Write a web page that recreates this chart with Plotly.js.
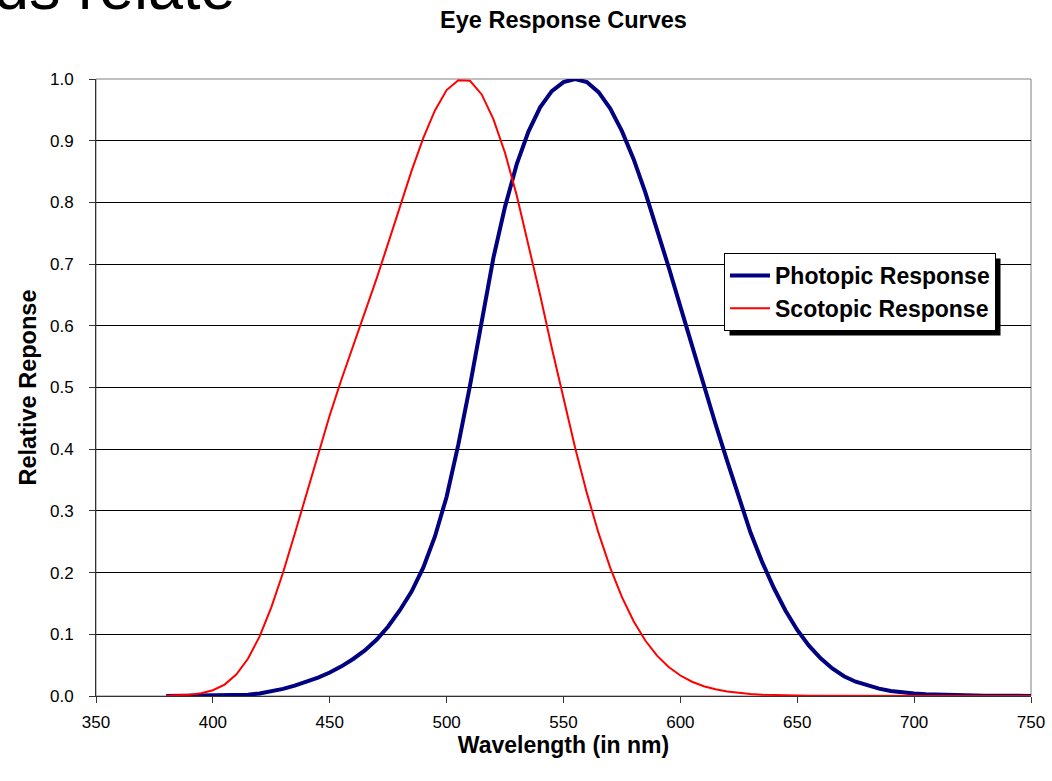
<!DOCTYPE html>
<html>
<head>
<meta charset="utf-8">
<script src="https://cdn.plot.ly/plotly-3.0.1.min.js"></script>
<style>
  html, body { margin: 0; padding: 0; background: #ffffff; }
  #chart { width: 1052px; height: 781px; }
</style>
</head>
<body>
<div id="chart"></div>
<script>
// Wavelength samples (nm)
const wavelengths = [
  380, 385, 390, 395, 400, 405, 410, 415, 420, 425, 430, 435, 440, 445, 450, 455,
  460, 465, 470, 475, 480, 485, 490, 495, 500, 505, 510, 515, 520, 525, 530, 535,
  540, 545, 550, 555, 560, 565, 570, 575, 580, 585, 590, 595, 600, 605, 610, 615,
  620, 625, 630, 635, 640, 645, 650, 655, 660, 665, 670, 675, 680, 685, 690, 695,
  700, 705, 710, 715, 720, 725, 730, 735, 740, 745, 750
];

// Photopic response (relative)
const photopic = [
  0.0000, 0.0001, 0.0001, 0.0002, 0.0004, 0.0006, 0.0012, 0.0022, 0.0040, 0.0073, 0.0116, 0.0168, 0.0230, 0.0298, 0.0380, 0.0480,
  0.0600, 0.0739, 0.0910, 0.1126, 0.1390, 0.1693, 0.2080, 0.2586, 0.3230, 0.4073, 0.5030, 0.6082, 0.7100, 0.7932, 0.8620, 0.9149,
  0.9540, 0.9803, 0.9950, 1.0000, 0.9950, 0.9786, 0.9520, 0.9154, 0.8700, 0.8163, 0.7570, 0.6949, 0.6310, 0.5668, 0.5030, 0.4412,
  0.3810, 0.3210, 0.2650, 0.2170, 0.1750, 0.1382, 0.1070, 0.0816, 0.0610, 0.0446, 0.0320, 0.0232, 0.0170, 0.0119, 0.0082, 0.0057,
  0.0041, 0.0029, 0.0021, 0.0015, 0.0010, 0.0007, 0.0005, 0.0004, 0.0002, 0.0002, 0.0001
];

// Scotopic response (relative)
const scotopic = [
  0.0006, 0.0011, 0.0022, 0.0045, 0.0093, 0.0185, 0.0348, 0.0604, 0.0966, 0.1436, 0.1998, 0.2625, 0.3281, 0.3931, 0.4550, 0.5130,
  0.5670, 0.6200, 0.6760, 0.7340, 0.7930, 0.8510, 0.9040, 0.9490, 0.9820, 0.9980, 0.9970, 0.9750, 0.9350, 0.8800, 0.8110, 0.7330,
  0.6500, 0.5640, 0.4810, 0.4020, 0.3288, 0.2639, 0.2076, 0.1602, 0.1212, 0.0899, 0.0655, 0.0469, 0.0332, 0.0231, 0.0159, 0.0109,
  0.0074, 0.0050, 0.0033, 0.0022, 0.0015, 0.0010, 0.0007, 0.0005, 0.0003, 0.0002, 0.0001, 0.0000, 0.0000, 0.0000, 0.0000, 0.0000,
  0.0000, 0.0000, 0.0000, 0.0000, 0.0000, 0.0000, 0.0000, 0.0000, 0.0000, 0.0000, 0.0000
];

const seriesNames = ["Photopic Response", "Scotopic Response"];
const xTickVals = [350, 400, 450, 500, 550, 600, 650, 700, 750];
const yTickVals = [0.0, 0.1, 0.2, 0.3, 0.4, 0.5, 0.6, 0.7, 0.8, 0.9, 1.0];
const chartTitle = "Eye Response Curves";
const xTitle = "Wavelength (in nm)";
const yTitle = "Relative Reponse";

const FONT = "Liberation Sans, Arial, Helvetica, sans-serif";

const traces = [
  {
    x: wavelengths, y: photopic, name: "<b>" + seriesNames[0] + "</b>",
    legendgroup: "g1",
    type: "scatter", mode: "lines",
    line: { color: "#000080", width: 4 }
  },
  {
    x: wavelengths, y: scotopic, name: "<b>" + seriesNames[1] + "</b>",
    legendgroup: "g2",
    type: "scatter", mode: "lines",
    line: { color: "#FF0000", width: 2 }
  }
];

// plot area in pixels: left 96, right 1031, top 79, bottom 696
const W = 1052, H = 781, L = 96, R = 21, T = 79, B = 85;
const pw = W - L - R, ph = H - T - B;
const px = v => (v - L) / pw;
const py = v => (H - B - v) / ph;

const layout = {
  width: W, height: H,
  margin: { l: L, r: R, t: T, b: B, pad: 0 },
  paper_bgcolor: "#ffffff",
  plot_bgcolor: "#ffffff",
  font: { family: FONT, color: "#000000", size: 17 },
  showlegend: true,
  title: {
    text: "<b>" + chartTitle + "</b>",
    font: { family: FONT, size: 23.5, color: "#000000" },
    x: 0.5, xref: "paper", xanchor: "center",
    y: 1 - 20 / H, yref: "container", yanchor: "middle"
  },
  xaxis: {
    range: [350, 750],
    tickmode: "array", tickvals: xTickVals,
    ticktext: xTickVals.map(String),
    ticks: "outside", ticklen: 6, tickcolor: "#333333", tickwidth: 1,
    ticklabelstandoff: 5,
    showline: true, linecolor: "#333333", linewidth: 1,
    showgrid: false, zeroline: false,
    tickfont: { family: FONT, size: 17, color: "#000000" },
    title: {
      text: "<b>" + xTitle + "</b>",
      font: { family: FONT, size: 23, color: "#000000" },
      standoff: 0
    },
    automargin: false
  },
  yaxis: {
    range: [0, 1],
    tickmode: "array", tickvals: yTickVals,
    ticktext: yTickVals.map(v => v.toFixed(1)),
    ticks: "outside", ticklen: 6, tickcolor: "#333333", tickwidth: 1,
    ticklabelstandoff: 12,
    showline: true, linecolor: "#333333", linewidth: 1,
    showgrid: true, gridcolor: "#000000", gridwidth: 1,
    zeroline: false,
    tickfont: { family: FONT, size: 17, color: "#000000" },
    title: {
      text: "<b>" + yTitle + "</b>",
      font: { family: FONT, size: 23.5, color: "#000000" },
      standoff: 6
    },
    automargin: false
  },
  legend: {
    x: px(724), y: py(253), xanchor: "left", yanchor: "top",
    xref: "paper", yref: "paper",
    bgcolor: "#ffffff", bordercolor: "#000000", borderwidth: 1,
    font: { family: FONT, size: 23, color: "#000000" },
    itemwidth: 40,
    tracegroupgap: 3,
    traceorder: "normal"
  },
  shapes: [
    // plot area border (grey top and right)
    {
      type: "rect", xref: "paper", yref: "paper",
      x0: 0, x1: 1, y0: 0, y1: 1,
      line: { color: "#808080", width: 1 },
      fillcolor: "rgba(0,0,0,0)", layer: "between"
    },
    // legend drop shadow (repositioned after render to follow the legend box)
    {
      type: "rect", xref: "paper", yref: "paper",
      x0: px(729), x1: px(1003), y0: py(331), y1: py(260),
      line: { width: 0 }, fillcolor: "#000000", layer: "above"
    }
  ],
  annotations: [
    {
      text: "ds relate", showarrow: false,
      xref: "paper", yref: "paper",
      x: px(-8), y: py(24), xanchor: "left", yanchor: "bottom",
      font: { family: FONT, size: 63, color: "#000000" }
    }
  ]
};

Plotly.newPlot("chart", traces, layout, { displayModeBar: false, staticPlot: true }).then(gd => {
  const bg = gd.querySelector(".legend .bg");
  if (!bg) return;
  const box = bg.getBoundingClientRect();
  const host = gd.getBoundingClientRect();
  const left = box.left - host.left, top = box.top - host.top;
  const right = left + box.width, bottom = top + box.height;
  const off = 5;
  return Plotly.relayout(gd, {
    "shapes[1].x0": px(left + off),
    "shapes[1].x1": px(right + off),
    "shapes[1].y0": py(bottom + off),
    "shapes[1].y1": py(top + off)
  });
});
</script>
</body>
</html>
